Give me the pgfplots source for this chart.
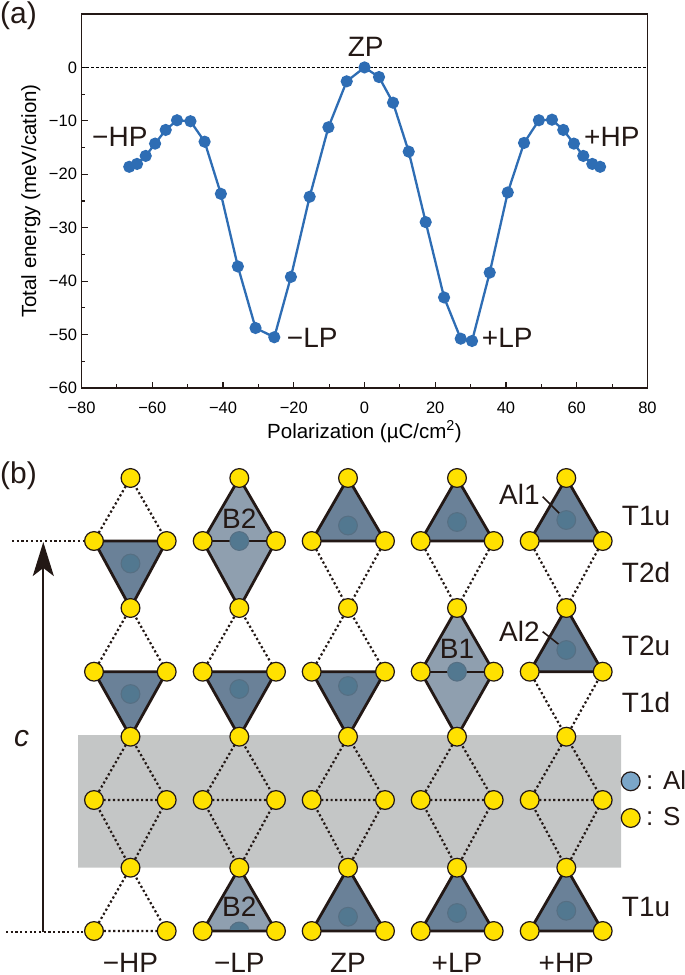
\documentclass[border=0pt]{standalone}
\usepackage{fontspec}
\setmainfont{Liberation Sans}
\usepackage{pgfplots}
\pgfplotsset{compat=1.18}
\usetikzlibrary{arrows.meta}
\definecolor{ink}{HTML}{231815}
\definecolor{curve}{HTML}{2E6DB4}
\definecolor{band}{HTML}{C4C6C6}
\definecolor{dark}{HTML}{6A8198}
\definecolor{light}{HTML}{8F9FAF}
\definecolor{alin}{HTML}{527890}
\definecolor{alrim}{HTML}{566F83}
\definecolor{alkey}{HTML}{7BA6C8}
\definecolor{sulfur}{HTML}{FFE100}
\newcommand{\lblfont}{\fontsize{28}{30}\selectfont}
\tikzset{
  darktri/.style={fill=dark,draw=ink,line width=2.8pt,line join=round},
  lighttri/.style={fill=light,draw=ink,line width=2.8pt,line join=round},
  lbl/.style={inner sep=0pt,text=ink,font=\lblfont},
  dots/.style={ink,line width=2.2pt,dash pattern=on 2.2pt off 2.5pt},
}
\begin{document}
\begin{tikzpicture}
\path[use as bounding box] (0,0) rectangle (685pt,975pt);

% panel (b) and all the free labels, in image pixels
\begin{axis}[
  at={(0,0)},anchor=south west,
  scale only axis,width=685pt,height=975pt,
  xmin=0,xmax=685,ymin=0,ymax=975,y dir=reverse,
  hide axis,clip=false,
]
\addplot[fill=band,draw=none] coordinates {(78,735)(621,735)(621,867.7)(78,867.7)(78,735)};

% dotted bonds
\addplot[dots,unbounded coords=jump] coordinates {
  (94,541)(130.5,478)(166.7,541)(nan,nan)
  (94,671.7)(130.5,608)(166.7,671.7)(nan,nan)
  (130.5,736.7)(94,800)(130.5,867.7)(166.7,800)(130.5,736.7)(nan,nan)
  (94,800)(166.7,800)(nan,nan)
  (94,931)(130.5,867.7)(166.7,931)(94,931)(nan,nan)
  (202.7,671.7)(239.3,608)(276,671.7)(nan,nan)
  (239.3,736.7)(202.7,800)(239.3,867.7)(276,800)(239.3,736.7)(nan,nan)
  (202.7,800)(276,800)(nan,nan)
  (311.7,541)(348,608)(385,541)(nan,nan)
  (311.7,671.7)(348,608)(385,671.7)(nan,nan)
  (348,736.7)(311.7,800)(348,867.7)(385,800)(348,736.7)(nan,nan)
  (311.7,800)(385,800)(nan,nan)
  (420.7,541)(457,608)(493.7,541)(nan,nan)
  (457,736.7)(420.7,800)(457,867.7)(493.7,800)(457,736.7)(nan,nan)
  (420.7,800)(493.7,800)(nan,nan)
  (529.7,541)(566.3,608)(602.7,541)(nan,nan)
  (529.7,671.7)(566.3,736.7)(602.7,671.7)(nan,nan)
  (566.3,736.7)(529.7,800)(566.3,867.7)(602.7,800)(566.3,736.7)(nan,nan)
  (529.7,800)(602.7,800)
};

% occupied tetrahedra
\addplot[darktri] coordinates {(94,541)(166.7,541)(130.5,608)(94,541)};
\addplot[darktri] coordinates {(94,671.7)(166.7,671.7)(130.5,736.7)(94,671.7)};
\addplot[darktri] coordinates {(202.7,671.7)(276,671.7)(239.3,736.7)(202.7,671.7)};
\addplot[darktri] coordinates {(311.7,541)(385,541)(348,478)(311.7,541)};
\addplot[darktri] coordinates {(311.7,671.7)(385,671.7)(348,736.7)(311.7,671.7)};
\addplot[darktri] coordinates {(311.7,931)(385,931)(348,867.7)(311.7,931)};
\addplot[darktri] coordinates {(420.7,541)(493.7,541)(457,478)(420.7,541)};
\addplot[darktri] coordinates {(420.7,931)(493.7,931)(457,867.7)(420.7,931)};
\addplot[darktri] coordinates {(529.7,541)(602.7,541)(566.3,478)(529.7,541)};
\addplot[darktri] coordinates {(529.7,671.7)(602.7,671.7)(566.3,608)(529.7,671.7)};
\addplot[darktri] coordinates {(529.7,931)(602.7,931)(566.3,867.7)(529.7,931)};
\addplot[lighttri] coordinates {(202.7,541)(239.3,478)(276,541)(239.3,608)(202.7,541)};
\addplot[lighttri] coordinates {(202.7,931)(239.3,867.7)(276,931)(202.7,931)};
\addplot[lighttri] coordinates {(420.7,671.7)(457,608)(493.7,671.7)(457,736.7)(420.7,671.7)};

% Al atoms
\addplot[only marks,mark=*,mark size=9.4pt,mark options={fill=alin,draw=alrim,line width=1pt}] coordinates {
  (130.5,563.5)(130.5,694)(239.3,541)(239.3,689)(348,525.5)(348,686)(348,916.7)
  (457,522)(457,671.7)(457,913)(566.3,520)(566.3,650)(566.3,910.7)
};
% the B2 Al atom cut by the cell edge
\addplot[fill=alin,draw=alrim,line width=1pt] coordinates {
  (229.9,931)(230.6,927)(233,924.4)(236,922.6)(239.3,922)(242.6,922.6)(245.6,924.4)(248,927)(248.7,931)
};

% bases that run over the atoms
\addplot[ink,line width=1.8pt] coordinates {(202.7,541)(276,541)};
\addplot[ink,line width=1.8pt] coordinates {(420.7,671.7)(493.7,671.7)};
\addplot[ink,line width=2.2pt] coordinates {(202.7,931)(276,931)};
% pointers
\addplot[ink,line width=1.6pt] coordinates {(542.7,496.7)(566,520)};
\addplot[ink,line width=1.6pt] coordinates {(542.7,631.7)(566,650)};

% S atoms
\addplot[only marks,mark=*,mark size=9.4pt,mark options={fill=sulfur,draw=ink,line width=1.2pt}] coordinates {
  (130.5,478)(94,541)(166.7,541)(130.5,608)(94,671.7)(166.7,671.7)(130.5,736.7)(94,800)(166.7,800)(130.5,867.7)(94,931)(166.7,931)
  (239.3,478)(202.7,541)(276,541)(239.3,608)(202.7,671.7)(276,671.7)(239.3,736.7)(202.7,800)(276,800)(239.3,867.7)(202.7,931)(276,931)
  (348,478)(311.7,541)(385,541)(348,608)(311.7,671.7)(385,671.7)(348,736.7)(311.7,800)(385,800)(348,867.7)(311.7,931)(385,931)
  (457,478)(420.7,541)(493.7,541)(457,608)(420.7,671.7)(493.7,671.7)(457,736.7)(420.7,800)(493.7,800)(457,867.7)(420.7,931)(493.7,931)
  (566.3,478)(529.7,541)(602.7,541)(566.3,608)(529.7,671.7)(602.7,671.7)(566.3,736.7)(529.7,800)(602.7,800)(566.3,867.7)(529.7,931)(602.7,931)
  (630.7,818)
};
\addplot[only marks,mark=*,mark size=9.4pt,mark options={fill=alkey,draw=ink,line width=1.2pt}] coordinates {(630.7,781.3)};

% c axis
\addplot[dots] coordinates {(12,541)(85,541)};
\addplot[dots] coordinates {(6,932)(85,932)};
\addplot[ink,line width=2.2pt,-{Stealth[length=34pt,width=21pt,inset=8pt]}] coordinates {(43.3,931.5)(43.3,542)};

% panel letters
\node[lbl,anchor=base west,font=\fontsize{30}{32}\selectfont] at (axis cs:0,23) {(a)};
\node[lbl,anchor=base west,font=\fontsize{30}{32}\selectfont] at (axis cs:0,483) {(b)};
% labels on the curve
\node[lbl,anchor=base] at (axis cs:365.7,56.7) {ZP};
\node[lbl,anchor=base west] at (axis cs:92,146.7) {−HP};
\node[lbl,anchor=base west] at (axis cs:584,146.7) {+HP};
\node[lbl,anchor=base west] at (axis cs:286.7,347) {−LP};
\node[lbl,anchor=base west] at (axis cs:481.7,347) {+LP};
% labels on the structure
\node[lbl,anchor=base] at (axis cs:239.3,528) {B2};
\node[lbl,anchor=base] at (axis cs:239.3,916.7) {B2};
\node[lbl,anchor=base] at (axis cs:457,658) {B1};
\node[lbl,anchor=base west] at (axis cs:499,504) {Al1};
\node[lbl,anchor=base west] at (axis cs:499,641) {Al2};
\node[lbl,anchor=base west] at (axis cs:621.7,525.7) {T1u};
\node[lbl,anchor=base west] at (axis cs:621.7,582) {T2d};
\node[lbl,anchor=base west] at (axis cs:621.7,655.7) {T2u};
\node[lbl,anchor=base west] at (axis cs:621.7,712) {T1d};
\node[lbl,anchor=base west] at (axis cs:621.7,916.7) {T1u};
\node[lbl,anchor=base west,font=\fontsize{26}{28}\selectfont] at (axis cs:646,789) {: Al};
\node[lbl,anchor=base west,font=\fontsize{26}{28}\selectfont] at (axis cs:646,825.7) {: S};
\node[lbl,anchor=base,font=\fontsize{30}{32}\selectfont\itshape] at (axis cs:21.7,746) {c};
\node[lbl,anchor=base] at (axis cs:130.5,972.5) {−HP};
\node[lbl,anchor=base] at (axis cs:239.3,972.5) {−LP};
\node[lbl,anchor=base] at (axis cs:348,972.5) {ZP};
\node[lbl,anchor=base] at (axis cs:457,972.5) {+LP};
\node[lbl,anchor=base] at (axis cs:566.3,972.5) {+HP};
\end{axis}

% panel (a)
\begin{axis}[
  at={(81.5pt,587pt)},anchor=south west,
  scale only axis,width=566pt,height=374pt,
  xmin=-80,xmax=80,ymin=-60,ymax=10,
  xtick={-80,-60,-40,-20,0,20,40,60,80},
  xticklabels={−80,−60,−40,−20,0,20,40,60,80},
  ytick={-60,-50,-40,-30,-20,-10,0},
  yticklabels={−60,−50,−40,−30,−20,−10,0},
  minor x tick num=1,minor y tick num=1,
  tick pos=lower,tick align=inside,
  major tick length=6pt,minor tick length=3.5pt,
  tick style={ink,line width=1.1pt},
  axis line style={ink,line width=1.7pt},
  tick label style={font=\fontsize{16.5}{18}\selectfont,text=black},
  xticklabel style={yshift=-10pt},
  yticklabel style={xshift=-1pt},
  xlabel={Polarization (µC/cm\textsuperscript{2})},
  ylabel={Total energy (meV/cation)},
  label style={font=\fontsize{20.5}{22}\selectfont,text=black},
  xlabel style={at={(axis description cs:0.5,-0.134)},anchor=base},
  ylabel style={at={(axis description cs:-0.08,0.5)},anchor=base},
]
\addplot[black,line width=0.9pt,dash pattern=on 3pt off 1.8pt] coordinates {(-80,0)(80,0)};
\addplot[curve,line width=2.3pt,mark=*,mark size=4.9pt,mark options={fill=curve,draw=curve}] table {
-66.5 -18.6
-64.3 -18.06
-61.85 -16.56
-59.2 -14.26
-56.2 -11.7
-53.0 -9.89
-49.2 -10.07
-45.2 -13.9
-40.6 -23.66
-35.8 -37.25
-30.8 -48.77
-25.5 -50.5
-20.8 -39.2
-15.5 -24.2
-10.2 -11.2
-5.03 -2.6
0 0
4.1 -1.8
8.06 -6.6
12.5 -15.76
17.3 -28.95
22.5 -43.05
27.2 -50.77
30.4 -51.2
35.4 -38.4
40.5 -23.4
45.1 -14.13
49.3 -9.89
53.0 -9.78
56.2 -11.7
59.2 -14.26
61.85 -16.56
64.4 -18.06
66.6 -18.6
};
\end{axis}
\end{tikzpicture}
\end{document}
